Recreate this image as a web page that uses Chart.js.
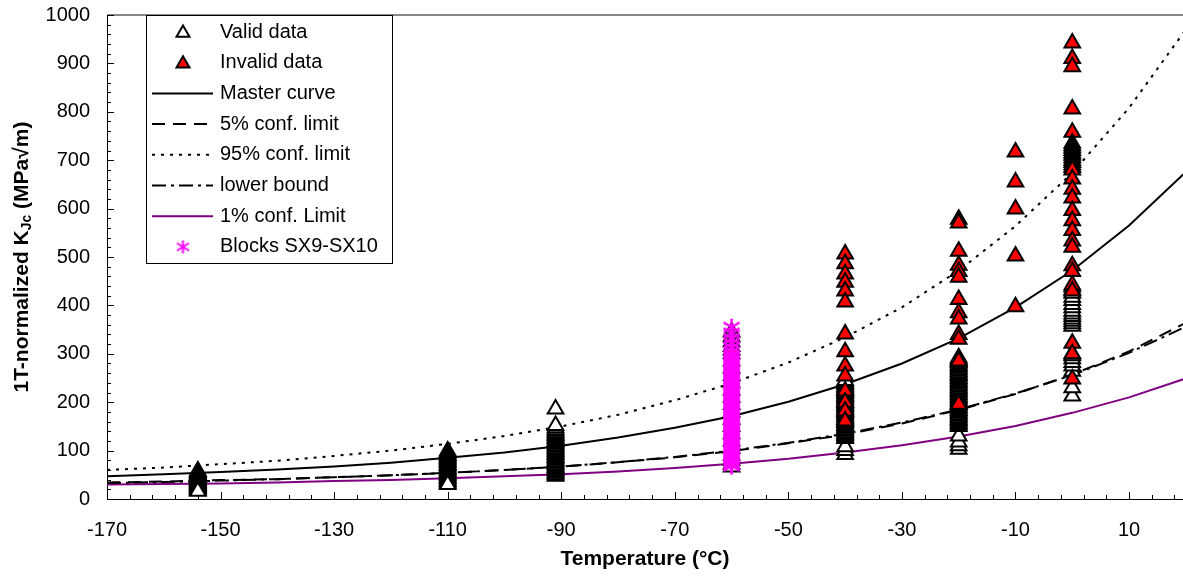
<!DOCTYPE html>
<html>
<head>
<meta charset="utf-8">
<script src="https://cdn.jsdelivr.net/npm/chart.js@4.4.0/dist/chart.umd.min.js"></script>
<style>
  body { margin: 0; background: #fff; }
  canvas { display: block; }
</style>
</head>
<body>
<canvas id="kjc" width="1183" height="579"></canvas>
<script>
// curve temperatures (°C) and the curve values
var curveT      = [-170, -160, -150, -140, -130, -120, -110, -100, -90, -80, -70, -60, -50, -40, -30, -20, -10, 0, 10, 20];
var masterCurve = [47, 51, 56, 61, 67, 75, 85, 96, 110, 127, 147, 171, 201, 237, 280, 332, 396, 472, 565, 676];
var conf5       = [34, 36, 39, 41, 45, 49, 54, 60, 67, 76, 86, 99, 115, 133, 156, 184, 217, 257, 305, 364];
var conf95      = [60, 65, 72, 79, 89, 100, 114, 130, 150, 174, 204, 239, 282, 334, 396, 472, 564, 674, 808, 970];
var lowerBound  = [33, 35, 38, 41, 45, 49, 54, 60, 67, 76, 87, 100, 116, 135, 158, 185, 218, 256, 302, 356];
var conf1       = [30, 31, 32, 34, 37, 39, 43, 47, 51, 57, 64, 73, 83, 96, 111, 129, 151, 178, 210, 249];

// test temperatures and 1T-normalized KJc values
var validT = [-154, -110, -91, -60, -40, -20, 0];
var validK = [
  [58, 56, 54, 52, 50, 48, 46, 44, 42, 40, 38, 36, 34, 32, 30, 28, 26, 24, 22, 20, 18, 16],
  [99, 96, 93, 90, 87, 84, 81, 78, 75, 72, 69, 66, 63, 60, 57, 54, 51, 48, 45, 42, 39, 36, 33, 30],
  [47, 50, 53, 56, 59, 62, 65, 68, 71, 74, 77, 80, 83, 86, 89, 92, 95, 98, 101, 104, 107, 110, 113, 116,
   119, 122, 125, 128, 131, 134, 137, 140, 143, 147, 152, 186],
  [345, 335, 325, 315, 300, 285, 270, 255, 240, 225, 210, 195, 180, 165, 150, 135, 120, 105, 90, 80, 72, 66],
  [92, 100, 108, 125, 128, 131, 134, 137, 140, 143, 146, 149, 152, 155, 158, 161, 164, 167, 170, 173, 176, 179,
   182, 185, 188, 191, 194, 197, 200, 203, 206, 209, 212, 215, 218, 221, 224, 227, 230, 233, 236, 239, 242, 245],
  [103, 110, 118, 130, 150, 153, 156, 159, 162, 165, 168, 171, 174, 177, 180, 183, 186, 189, 192, 195, 198, 201,
   204, 207, 210, 213, 216, 219, 222, 225, 228, 231, 234, 237, 240, 243, 246, 249, 252, 255, 258, 261, 264, 267,
   270, 273, 276, 279, 282, 285, 288],
  [213, 230, 264, 275, 282, 290, 296, 300, 357, 362, 367, 372, 377, 382, 388, 395, 402, 410, 417, 425, 432, 438]
];
var invalidT = [-60, -40, -20, -10, 0];
var invalidK = [
  [308],
  [506, 486, 465, 448, 430, 407, 341, 304, 275, 254, 223, 200, 182, 161],
  [578, 570, 512, 483, 470, 458, 412, 385, 372, 340, 330, 292, 285, 196],
  [717, 655, 599, 502, 397],
  [942, 910, 893, 806, 758, 735, 730, 725, 720, 715, 710, 705, 700, 695, 690, 685, 680, 661, 640, 622, 596, 575,
   555, 533, 520, 482, 470, 442, 430, 322, 300, 248]
];
var blockT = -60;
var blockK = [355, 343, 332, 322, 313, 305, 298, 292, 287, 283, 279, 275, 271, 267, 263, 259, 255, 251, 247, 243,
              239, 235, 231, 227, 223, 219, 215, 211, 207, 203, 199, 195, 191, 187, 183, 179, 175, 171, 167, 163,
              159, 155, 151, 147, 143, 139, 135, 131, 127, 123, 119, 115, 111, 107, 103, 99, 95, 91, 87, 83, 79, 75, 71, 68];

var xTickValues = [-170, -150, -130, -110, -90, -70, -50, -30, -10, 10];
var xMin = -170, xMax = 19.5;
var yMin = 0, yMax = 1000;

function curvePts(ys) {
  return curveT.map(function(t, i){ return {x: t, y: ys[i]}; });
}
function columnPts(ts, ks) {
  var out = [];
  ts.forEach(function(t, i){
    ks[i].forEach(function(k){ out.push({x: t, y: k}); });
  });
  return out;
}

// magenta asterisk marker
function makeAsterisk(size, lw) {
  var c = document.createElement('canvas');
  c.width = size; c.height = size;
  var g = c.getContext('2d');
  g.strokeStyle = '#ff00ff';
  g.lineWidth = lw;
  var m = size / 2;
  g.beginPath();
  g.moveTo(m, 1); g.lineTo(m, size - 1);
  g.moveTo(1.5, size * 0.25); g.lineTo(size - 1.5, size * 0.75);
  g.moveTo(1.5, size * 0.75); g.lineTo(size - 1.5, size * 0.25);
  g.stroke();
  return c;
}
var starBig = makeAsterisk(19, 2.5);
var starSmall = makeAsterisk(15, 2);

var fontFamily = '"Liberation Sans", Arial, sans-serif';

function lineSet(label, data, color, dash, order) {
  return {
    label: label, data: curvePts(data), showLine: true, pointRadius: 0,
    borderColor: color, borderWidth: 2, borderDash: dash, tension: 0, order: order
  };
}

var datasets = [
  {label: 'Valid data', data: columnPts(validT, validK), pointStyle: 'triangle', pointRadius: 9,
   backgroundColor: '#ffffff', borderColor: '#000000', borderWidth: 2, order: 2},
  {label: 'Invalid data', data: columnPts(invalidT, invalidK), pointStyle: 'triangle', pointRadius: 9,
   backgroundColor: '#ff0000', borderColor: '#000000', borderWidth: 2, order: 1},
  lineSet('Master curve', masterCurve, '#000000', [], 3),
  lineSet('5% conf. limit', conf5, '#000000', [13, 8], 3),
  lineSet('95% conf. limit', conf95, '#000000', [3, 6], 3),
  lineSet('lower bound', lowerBound, '#000000', [14, 5, 3, 5], 3),
  lineSet('1% conf. Limit', conf1, '#800080', [], 3),
  {label: 'Blocks SX9-SX10', data: blockK.map(function(k){ return {x: blockT, y: k}; }),
   pointStyle: starBig, pointRadius: 9, borderWidth: 0, order: 0}
];

// frame, inward ticks, legend box and y title
var decor = {
  id: 'decor',
  afterDraw: function(chart) {
    var ctx = chart.ctx, a = chart.chartArea;
    var xs = chart.scales.x, ys = chart.scales.y;
    ctx.save();

    // gray top frame line
    ctx.strokeStyle = '#888888';
    ctx.lineWidth = 2;
    ctx.beginPath();
    ctx.moveTo(a.left, a.top); ctx.lineTo(a.right, a.top);
    ctx.stroke();

    // inward ticks
    ctx.strokeStyle = '#000000';
    ctx.lineWidth = 1;
    ctx.beginPath();
    for (var v = yMin; v <= yMax; v += 20) {
      var py = Math.round(ys.getPixelForValue(v)) + 0.5;
      ctx.moveTo(a.left, py); ctx.lineTo(a.left + (v % 100 === 0 ? 7 : 4), py);
    }
    for (var t = xMin; t <= xMax; t += 4) {
      var px = Math.round(xs.getPixelForValue(t)) + 0.5;
      ctx.moveTo(px, a.bottom); ctx.lineTo(px, a.bottom - ((t - xMin) % 20 === 0 ? 7 : 4));
    }
    ctx.stroke();

    // legend box
    var bx = 146, by = 15, bw = 246, bh = 248;
    ctx.fillStyle = '#ffffff';
    ctx.fillRect(bx, by, bw, bh);
    ctx.strokeStyle = '#000000';
    ctx.lineWidth = 1;
    ctx.strokeRect(bx + 0.5, by + 0.5, bw, bh);

    ctx.font = '20px ' + fontFamily;
    ctx.textBaseline = 'middle';
    ctx.textAlign = 'left';
    chart.data.datasets.forEach(function(ds, i) {
      var ry = 32 + i * 30.7;
      ctx.save();
      if (ds.showLine) {
        ctx.strokeStyle = ds.borderColor;
        ctx.lineWidth = 2;
        ctx.setLineDash(ds.borderDash);
        ctx.beginPath();
        ctx.moveTo(152, ry); ctx.lineTo(213, ry);
        ctx.stroke();
      } else if (ds.pointStyle === 'triangle') {
        ctx.fillStyle = ds.backgroundColor;
        ctx.strokeStyle = ds.borderColor;
        ctx.lineWidth = 2;
        Chart.helpers.drawPoint(ctx, {pointStyle: 'triangle', radius: 7.5, rotation: 0, borderWidth: 2}, 183, ry + 1);
      } else {
        ctx.drawImage(starSmall, 183 - 7.5, ry - 7.5);
      }
      ctx.restore();
      ctx.fillStyle = '#000000';
      ctx.fillText(ds.label, 220, ry);
    });

    // y axis title with subscript
    var parts = [
      {t: '1T-normalized K', f: 'bold 21px ' + fontFamily, dy: 0},
      {t: 'Jc', f: 'bold 14px ' + fontFamily, dy: 5},
      {t: ' (MPa\u221Am)', f: 'bold 21px ' + fontFamily, dy: 0}
    ];
    var total = 0;
    parts.forEach(function(p){ ctx.font = p.f; p.w = ctx.measureText(p.t).width; total += p.w; });
    ctx.translate(22, 257);
    ctx.rotate(-Math.PI / 2);
    ctx.fillStyle = '#000000';
    ctx.textBaseline = 'middle';
    var cx = -total / 2;
    parts.forEach(function(p){ ctx.font = p.f; ctx.fillText(p.t, cx, p.dy); cx += p.w; });

    ctx.restore();
  }
};

new Chart(document.getElementById('kjc'), {
  type: 'scatter',
  data: {datasets: datasets},
  options: {
    responsive: false,
    animation: false,
    devicePixelRatio: 1,
    layout: {autoPadding: false, padding: {top: 15, left: 0, right: 0, bottom: 0}},
    plugins: {legend: {display: false}, tooltip: {enabled: false}},
    scales: {
      x: {
        type: 'linear', min: xMin, max: xMax,
        grid: {display: false, drawTicks: false},
        border: {display: true, color: '#000000', width: 1},
        ticks: {padding: 19, color: '#000000', font: {size: 20, family: fontFamily},
                callback: function(v){ return String(v); }},
        afterBuildTicks: function(s){ s.ticks = xTickValues.map(function(v){ return {value: v}; }); },
        title: {display: true, text: 'Temperature (\u00B0C)', color: '#000000',
                font: {size: 21, weight: 'bold', family: fontFamily}, padding: {top: 0, bottom: 7}},
        afterFit: function(s){ s.height = 80; s.paddingLeft = 0; s.paddingRight = 0; }
      },
      y: {
        type: 'linear', min: yMin, max: yMax,
        grid: {display: false, drawTicks: false},
        border: {display: true, color: '#000000', width: 1},
        ticks: {stepSize: 100, padding: 17, color: '#000000', font: {size: 20, family: fontFamily},
                callback: function(v){ return String(v); }},
        afterFit: function(s){ s.width = 107; s.paddingTop = 0; s.paddingBottom = 0; }
      }
    }
  },
  plugins: [decor]
});
</script>
</body>
</html>
